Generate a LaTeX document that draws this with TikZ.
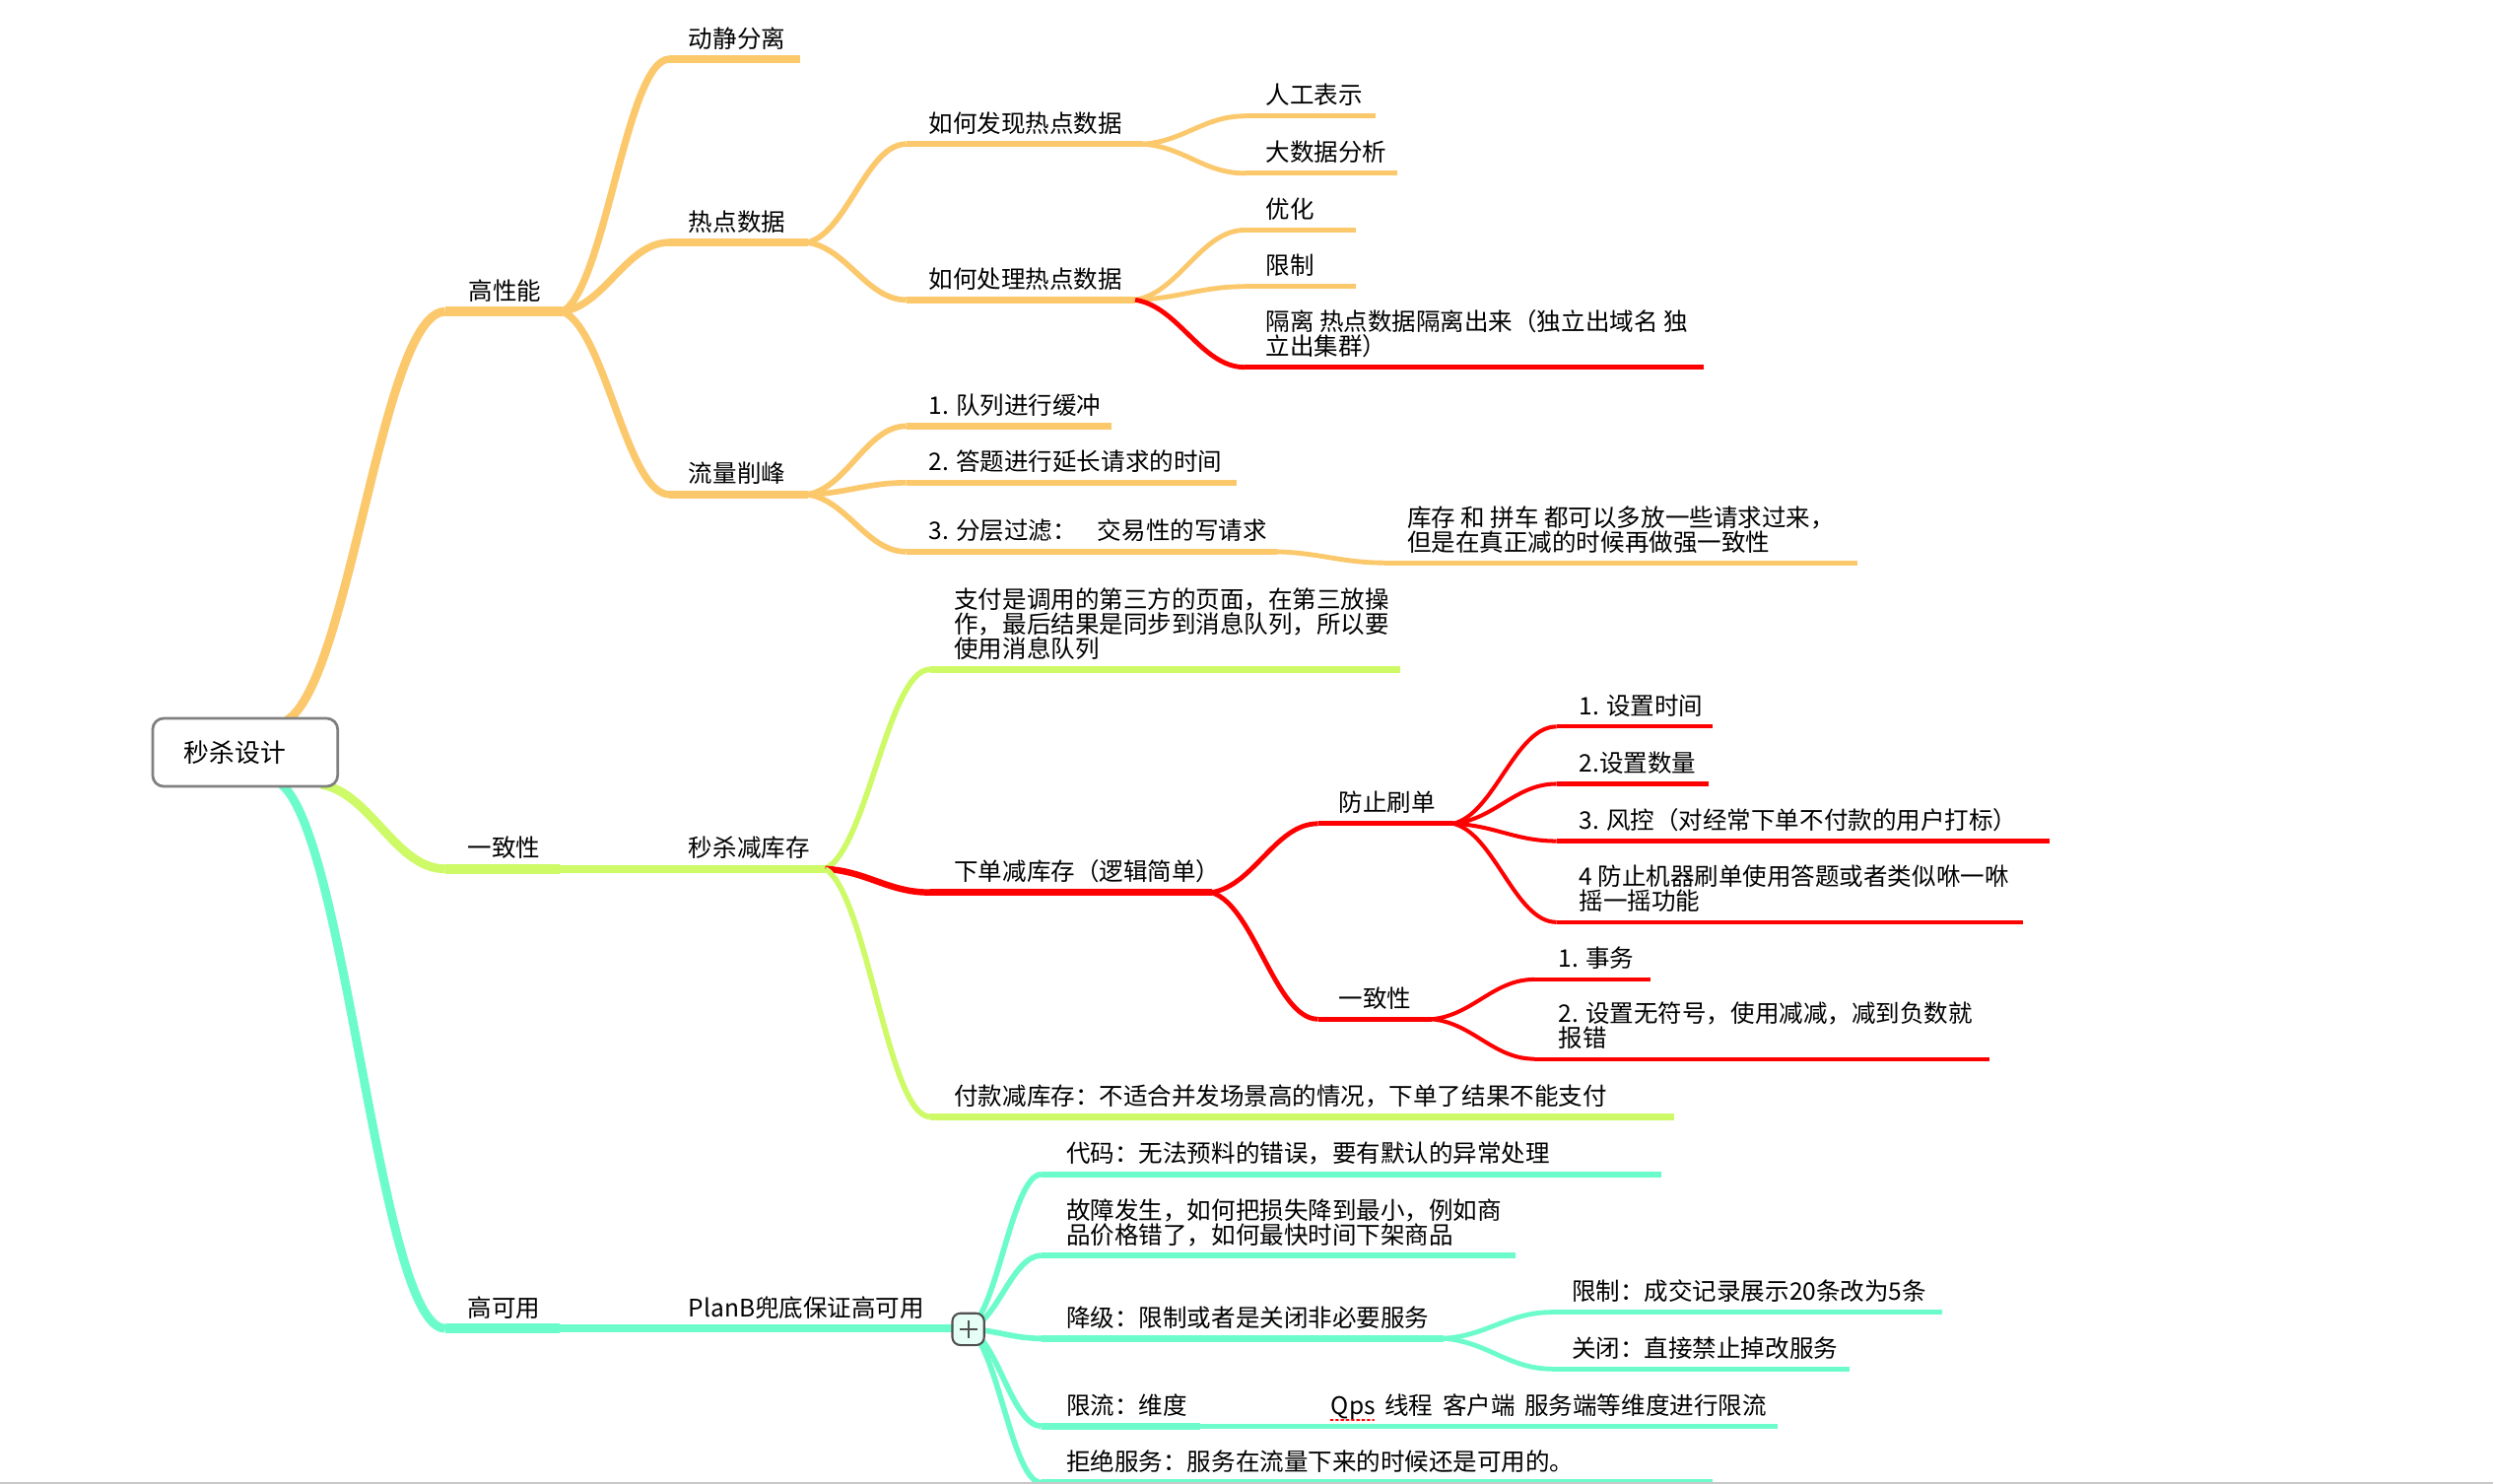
\documentclass[tikz,border=0pt]{standalone}
\usepackage{fontspec}
\setmainfont{Noto Sans CJK SC}
\usetikzlibrary{calc,backgrounds}
\definecolor{mmorange}{HTML}{FBC86C}
\definecolor{mmlime}{HTML}{CDFA66}
\definecolor{mmteal}{HTML}{6CFCCB}
\definecolor{mmred}{HTML}{FF0000}
\definecolor{mmgray}{HTML}{808080}
\definecolor{mmdark}{HTML}{505050}
\definecolor{mmplusfill}{HTML}{E6FFF6}
\definecolor{mmframe}{HTML}{C8C8C8}
% topic: name, colour, width style, underline x0, x1, y, label x, text
\newcommand\mmtopic[8]{%
  \coordinate (#1-s) at (#4,#6);
  \coordinate (#1-e) at (#5,#6);
  \node[lbl] (#1) at (#7,#6-7.4) {#8};
  \begin{scope}[on background layer]\draw[#2,#3] (#1-s) -- (#1-e);\end{scope}}
% connector: colour, width style, from, to
\newcommand\mmconn[4]{%
  \begin{scope}[on background layer]
  \draw[#1,#2] let \p1=(#3), \p2=(#4) in (\p1) .. controls ({\x1+0.4*(\x2-\x1)},{\y1+0.1*(\y2-\y1)}) and ({\x2-0.4*(\x2-\x1)},{\y2}) .. (\p2);
  \end{scope}}
\begin{document}
\begin{tikzpicture}[x=1pt,y=-1pt,line cap=round,line join=round,
  lbl/.style={anchor=base west,inner sep=0pt,font=\fontsize{15.2}{15.5}\selectfont,text=black},
  rootbox/.style={draw=mmgray,line width=1.7pt,rounded corners=7pt,fill=white,
    minimum width=116.4pt,minimum height=42.8pt,text width=77pt,align=left,
    inner xsep=19.7pt,inner ysep=0pt,font=\fontsize{16}{18}\selectfont},
  plusbox/.style={draw=mmdark,line width=1.3pt,rounded corners=5pt,minimum size=20pt,inner sep=0pt,fill=mmplusfill},
  w1/.style={line width=6.5pt},w2/.style={line width=4.8pt},w3/.style={line width=4pt},
  w4/.style={line width=3.2pt},w5/.style={line width=2.6pt},
  c1/.style={line width=5.5pt},c2/.style={line width=4.5pt},c3/.style={line width=3.5pt},
  c4/.style={line width=3pt},c5/.style={line width=2.5pt}]
\useasboundingbox (0,0) rectangle (1568,933.35);
\begin{scope}[on background layer]\fill[white] (0,0) rectangle (1568,933.35);\end{scope}

% root
\node[rootbox] (root) at (154.2,473.2) {秒杀设计};
\coordinate (rootT) at ($(root.north west)+(85.5,2)$);
\coordinate (rootBR) at ($(root.south west)+(107,-2)$);
\coordinate (rootB) at ($(root.south west)+(82,-2)$);

% ---------- orange branch ----------
\mmtopic{gxn}{mmorange}{w1}{280}{354}{196}{294.5}{高性能}
\mmtopic{djfl}{mmorange}{w2}{421}{503}{37.2}{433}{动静分离}
\mmtopic{rdsj}{mmorange}{w2}{421}{508}{152.5}{433}{热点数据}
\mmtopic{llxf}{mmorange}{w2}{421}{508}{311}{433}{流量削峰}
\mmtopic{fx}{mmorange}{w3}{570}{719}{90.6}{584}{如何发现热点数据}
\mmtopic{cl}{mmorange}{w3}{570}{714}{188.6}{584}{如何处理热点数据}
\mmtopic{rg}{mmorange}{w4}{783}{865}{73}{796}{人工表示}
\mmtopic{dsj}{mmorange}{w4}{783}{879}{109}{796}{大数据分析}
\mmtopic{yh}{mmorange}{w4}{783}{853}{144.7}{796}{优化}
\mmtopic{xz}{mmorange}{w4}{783}{853}{180.2}{796}{限制}
\mmtopic{gl}{mmred}{w4}{783}{1071.6}{231}{796}{\vbox{\hbox{隔离 热点数据隔离出来（独立出域名 独}\hbox{立出集群）}}}
\mmtopic{dl}{mmorange}{w3}{570}{699}{268}{584}{1. 队列进行缓冲}
\mmtopic{dt}{mmorange}{w3}{570}{778}{303.6}{584}{2. 答题进行延长请求的时间}
\mmtopic{fc}{mmorange}{w3}{570}{803}{347}{584}{3. 分层过滤：\hspace{13pt}交易性的写请求}
\mmtopic{kc}{mmorange}{w4}{871}{1168}{354}{885}{\vbox{\hbox{库存 和 拼车 都可以多放一些请求过来，}\hbox{但是在真正减的时候再做强一致性}}}

\mmconn{mmorange}{c1}{rootT}{gxn-s}
\mmconn{mmorange}{c2}{gxn-e}{djfl-s}
\mmconn{mmorange}{c2}{gxn-e}{rdsj-s}
\mmconn{mmorange}{c2}{gxn-e}{llxf-s}
\mmconn{mmorange}{c3}{rdsj-e}{fx-s}
\mmconn{mmorange}{c3}{rdsj-e}{cl-s}
\mmconn{mmorange}{c4}{fx-e}{rg-s}
\mmconn{mmorange}{c4}{fx-e}{dsj-s}
\mmconn{mmorange}{c4}{cl-e}{yh-s}
\mmconn{mmorange}{c4}{cl-e}{xz-s}
\mmconn{mmred}{c4}{cl-e}{gl-s}
\mmconn{mmorange}{c3}{llxf-e}{dl-s}
\mmconn{mmorange}{c3}{llxf-e}{dt-s}
\mmconn{mmorange}{c3}{llxf-e}{fc-s}
\mmconn{mmorange}{c4}{fc-e}{kc-s}

% ---------- lime branch ----------
\mmtopic{yzx}{mmlime}{w1}{280}{352}{546.5}{294}{一致性}
\mmtopic{msj}{mmlime}{w2}{352}{519}{546.5}{433}{秒杀减库存}
\mmtopic{zf}{mmlime}{w3}{585}{880.6}{421}{600}{\vbox{\hbox{支付是调用的第三方的页面，在第三放操}\hbox{作，最后结果是同步到消息队列，所以要}\hbox{使用消息队列}}}
\mmtopic{xd}{mmred}{w3}{585}{762}{561.3}{600}{下单减库存（逻辑简单）}
\mmtopic{fk}{mmlime}{w3}{585}{1053}{702.4}{600}{付款减库存：不适合并发场景高的情况，下单了结果不能支付}
\mmtopic{fz}{mmred}{w4}{829}{914}{518}{842}{防止刷单}
\mmtopic{yz2}{mmred}{w4}{829}{900.6}{641}{842}{一致性}
\mmtopic{a1}{mmred}{w5}{979}{1077}{457}{993}{1. 设置时间}
\mmtopic{a2}{mmred}{w5}{979}{1074.5}{493}{993}{2.设置数量}
\mmtopic{a3}{mmred}{w5}{979}{1289}{529}{993}{3. 风控（对经常下单不付款的用户打标）}
\mmtopic{a4}{mmred}{w5}{979}{1272.6}{580}{993}{\vbox{\hbox{4 防止机器刷单使用答题或者类似咻一咻}\hbox{摇一摇功能}}}
\mmtopic{b1}{mmred}{w5}{965}{1038}{616}{980}{1. 事务}
\mmtopic{b2}{mmred}{w5}{965}{1251}{666}{980}{\vbox{\hbox{2. 设置无符号，使用减减，减到负数就}\hbox{报错}}}

\mmconn{mmlime}{c1}{rootBR}{yzx-s}
\mmconn{mmlime}{c3}{msj-e}{zf-s}
\mmconn{mmred}{w3}{msj-e}{xd-s}
\mmconn{mmlime}{c3}{msj-e}{fk-s}
\mmconn{mmred}{c4}{xd-e}{fz-s}
\mmconn{mmred}{c4}{xd-e}{yz2-s}
\mmconn{mmred}{c5}{fz-e}{a1-s}
\mmconn{mmred}{c5}{fz-e}{a2-s}
\mmconn{mmred}{c5}{fz-e}{a3-s}
\mmconn{mmred}{c5}{fz-e}{a4-s}
\mmconn{mmred}{c5}{yz2-e}{b1-s}
\mmconn{mmred}{c5}{yz2-e}{b2-s}

% ---------- teal branch ----------
\mmtopic{gky}{mmteal}{w1}{280}{352}{835.5}{294}{高可用}
\mmtopic{planb}{mmteal}{w2}{352}{605}{835.5}{433}{PlanB兜底保证高可用}
\node[plusbox] (plus) at (609,836) {};
\draw[mmdark,line width=1.2pt,line cap=butt] ($(plus.center)+(-5.5,0)$) -- ($(plus.center)+(5.5,0)$);
\draw[mmdark,line width=1.2pt,line cap=butt] ($(plus.center)+(0,-5.5)$) -- ($(plus.center)+(0,5.5)$);
\mmtopic{dm}{mmteal}{w3}{655}{1045}{738.6}{670.6}{代码：无法预料的错误，要有默认的异常处理}
\mmtopic{gz}{mmteal}{w3}{655}{953}{789.6}{670.6}{\vbox{\hbox{故障发生，如何把损失降到最小，例如商}\hbox{品价格错了，如何最快时间下架商品}}}
\mmtopic{jj}{mmteal}{w3}{655}{908}{841.8}{670.6}{降级：限制或者是关闭非必要服务}
\mmtopic{xz2}{mmteal}{w4}{976}{1221.5}{825.3}{988.5}{限制：成交记录展示20条改为5条}
\mmtopic{gb}{mmteal}{w4}{976}{1163}{861}{988.5}{关闭：直接禁止掉改服务}
\mmtopic{xl}{mmteal}{w3}{655}{755}{897}{670.6}{限流：维度}
\mmtopic{qps}{mmteal}{w4}{755}{1118}{897}{837}{Qps\hspace{6pt}线程\hspace{6pt}客户端\hspace{6pt}服务端等维度进行限流}
\mmtopic{jf}{mmteal}{w3}{655}{1077}{932.5}{670.6}{拒绝服务：服务在流量下来的时候还是可用的。}
\draw[mmred,line width=1.3pt,dotted] ($(qps.base west)+(0,3.6)$) -- ++(27,0);

\mmconn{mmteal}{c1}{rootB}{gky-s}
\mmconn{mmteal}{c3}{plus.center}{dm-s}
\mmconn{mmteal}{c3}{plus.center}{gz-s}
\mmconn{mmteal}{c3}{plus.center}{jj-s}
\mmconn{mmteal}{c3}{plus.center}{xl-s}
\mmconn{mmteal}{c3}{plus.center}{jf-s}
\mmconn{mmteal}{c4}{jj-e}{xz2-s}
\mmconn{mmteal}{c4}{jj-e}{gb-s}

% bottom frame line
\draw[mmframe,line width=1pt,line cap=butt] (0,932.9) -- (1568,932.9);
\end{tikzpicture}
\end{document}
